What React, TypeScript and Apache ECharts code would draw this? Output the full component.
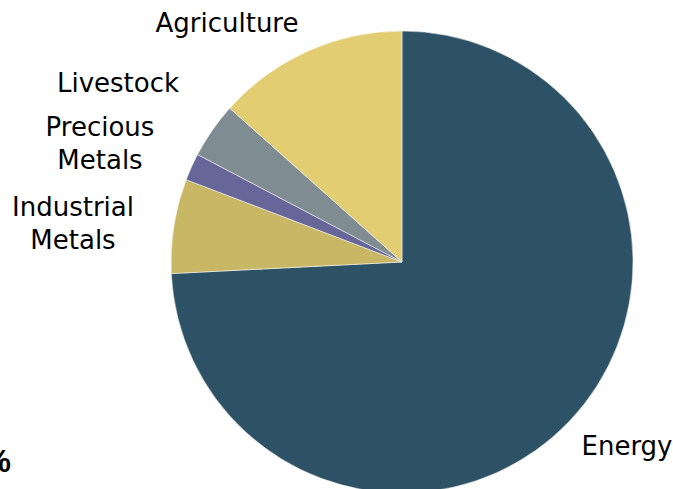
import React, { useEffect, useRef } from "react";
import * as echarts from "echarts";

const categories = ["Energy", "Industrial Metals", "Precious Metals", "Livestock", "Agriculture"];
const weights = [74.2, 6.6, 1.9, 3.9, 13.4];
const sliceColors = ["#2D5165", "#C8B866", "#666699", "#7F8C92", "#E3CD72"];
const labelCenters: [number, number][] = [
  [627, 446],
  [73, 223],
  [100, 143],
  [118, 83],
  [227, 23],
];

export default function App() {
  const ref = useRef<HTMLDivElement>(null);
  useEffect(() => {
    if (!ref.current) return;
    const chart = echarts.init(ref.current, undefined, { renderer: "svg" });
    chart.setOption({
      animation: false,
      backgroundColor: "#ffffff",
      graphic: [
        {
          type: "text",
          x: 11,
          y: 461,
          style: {
            text: "%",
            align: "right",
            verticalAlign: "middle",
            fontFamily: "Liberation Sans Narrow, Liberation Sans, Arial",
            fontWeight: "bold",
            fontSize: 32,
            fill: "#000",
          },
        },
      ],
      series: [
        {
          type: "pie",
          center: [402, 262],
          radius: 231,
          startAngle: 90,
          clockwise: true,
          avoidLabelOverlap: false,
          itemStyle: { borderColor: "#ffffff", borderWidth: 0.5 },
          label: {
            show: true,
            position: "outside",
            color: "#000",
            fontFamily: "DejaVu Sans",
            fontSize: 26,
            lineHeight: 33,
            align: "center",
            formatter: (p: any) => String(p.name).replace(" ", "\n"),
          },
          labelLine: { show: false },
          labelLayout: (params: any) => {
            const c = labelCenters[params.dataIndex];
            return { x: c[0], y: c[1], align: "center", verticalAlign: "middle" };
          },
          emphasis: { disabled: true },
          data: categories.map((name, i) => ({
            name,
            value: weights[i],
            itemStyle: { color: sliceColors[i] },
          })),
        },
      ],
    });
    return () => chart.dispose();
  }, []);
  return (
    <div
      ref={ref}
      style={{ position: "absolute", left: 0, top: 0, width: 673, height: 489 }}
    />
  );
}
